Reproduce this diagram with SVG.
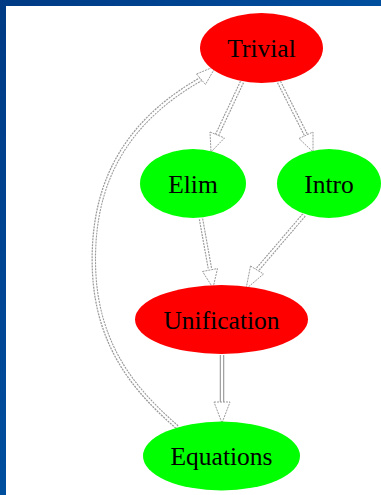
<svg xmlns="http://www.w3.org/2000/svg" width="381" height="495" viewBox="0 0 381 495">
  <defs>
    <linearGradient id="bg" x1="0" y1="0" x2="1" y2="1">
      <stop offset="0" stop-color="#003a84"/>
      <stop offset="1" stop-color="#0062b8"/>
    </linearGradient>
    <path id="pA" d="M242,82 L217,135"/>
    <path id="pB" d="M279,82 L306,135"/>
    <path id="pC" d="M201,219 L210,269"/>
    <path id="pD" d="M304,215 L257,270"/>
    <path id="pE" d="M222,355 L222,402"/>
    <path id="pF" d="M177,427 C140,395 97,350 94,270 C91,190 120,125 201,79"/>
  </defs>
  <style>
    .outer { fill: none; stroke: #9a9a9a; stroke-width: 4.5; stroke-dasharray: 2 1; }
    .inner { fill: none; stroke: #ffffff; stroke-width: 2.2; }
    .solid { stroke-dasharray: none; }
    .head { fill: #ffffff; stroke: #9a9a9a; stroke-width: 1; stroke-dasharray: 2 1; }
    .red { fill: #ff0000; }
    .green { fill: #00ff00; }
    text { font-family: "Liberation Serif", "Times New Roman", serif; font-size: 25.5px; fill: #000000; text-anchor: middle; }
  </style>
  <rect x="0" y="0" width="381" height="495" fill="url(#bg)"/>
  <rect x="6" y="6" width="375" height="489" fill="#ffffff"/>

  <g id="connectors">
    <use href="#pA" class="outer"/><use href="#pA" class="inner"/>
    <polygon class="head" points="210,132 224.5,138 211,152"/>
    <use href="#pB" class="outer"/><use href="#pB" class="inner"/>
    <polygon class="head" points="299,138.5 313,132 313,152"/>
    <use href="#pC" class="outer"/><use href="#pC" class="inner"/>
    <polygon class="head" points="202.5,271.5 217.5,268.5 213,288"/>
    <use href="#pD" class="outer"/><use href="#pD" class="inner"/>
    <polygon class="head" points="250.5,266 263.5,274 246,289"/>
    <use href="#pE" class="outer solid"/><use href="#pE" class="inner"/>
    <polygon class="head" points="214,402 230,402 222,423"/>
    <use href="#pF" class="outer"/><use href="#pF" class="inner"/>
    <polygon class="head" points="196.5,74 205.5,84.5 216,66"/>
  </g>

  <g id="Trivial">
    <ellipse class="red" cx="261.5" cy="48" rx="61.5" ry="35"/>
    <text x="261.5" y="56.5">Trivial</text>
  </g>
  <g id="Elim">
    <ellipse class="green" cx="193" cy="183.5" rx="53" ry="34.5"/>
    <text x="193" y="192.5">Elim</text>
  </g>
  <g id="Intro">
    <ellipse class="green" cx="329" cy="183.5" rx="52" ry="34.5"/>
    <text x="329" y="192.5">Intro</text>
  </g>
  <g id="Unification">
    <ellipse class="red" cx="221.5" cy="319.5" rx="86.5" ry="34.5"/>
    <text x="221.5" y="328.5">Unification</text>
  </g>
  <g id="Equations">
    <ellipse class="green" cx="221.5" cy="456" rx="78.5" ry="34.5"/>
    <text x="221.5" y="465">Equations</text>
  </g>
</svg>
